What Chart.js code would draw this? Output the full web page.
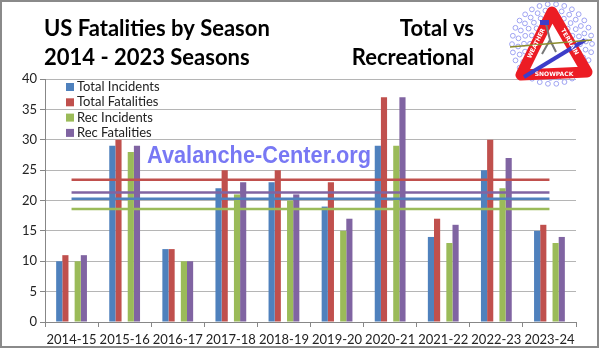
<!DOCTYPE html>
<html>
<head>
<meta charset="utf-8">
<title>US Fatalities by Season</title>
<script src="https://cdn.jsdelivr.net/npm/chart.js@4.4.1/dist/chart.umd.min.js"></script>
<style>
	html, body { margin: 0; padding: 0; background: #fff; }
	#grafico { display: block; }
</style>
</head>
<body>
<canvas id="grafico" width="600" height="350"></canvas>
<script>
// dados
var temporadas = ['2014-15', '2015-16', '2016-17', '2017-18', '2018-19', '2019-20', '2020-21', '2021-22', '2022-23', '2023-24'];
var totalIncidentes = [10, 29, 12, 22, 23, 19, 29, 14, 25, 15];
var totalFatalidades = [11, 30, 12, 25, 25, 23, 37, 17, 30, 16];
var recIncidentes = [10, 28, 10, 21, 20, 15, 29, 13, 22, 13];
var recFatalidades = [11, 29, 10, 23, 21, 17, 37, 16, 27, 14];

// linhas horizontais de media (nivel constante)
var mediaTotalIncidentes = 20.3;
var mediaTotalFatalidades = 23.4;
var mediaRecIncidentes = 18.6;
var mediaRecFatalidades = 21.3;

var yTicks = [0, 5, 10, 15, 20, 25, 30, 35, 40];

var AZUL = '#4f81bd', VERMELHO = '#c0504d', VERDE = '#9bbb59', ROXO = '#8064a2';
var FONTE = 'Lato, "Noto Sans", sans-serif';

function linhaConstante(valor) {
	return temporadas.map(function() { return valor; });
}

function barra(label, cor, dados) {
	return { type: 'bar', label: label, backgroundColor: cor, data: dados, order: 2 };
}

function linha(cor, valor) {
	return {
		type: 'line', label: '', borderColor: cor, borderWidth: 2.5,
		pointRadius: 0, data: linhaConstante(valor), order: 0, fill: false
	};
}

function textoNoLado(ctx, texto, x1, y1, x2, y2, desloc) {
	var ang = Math.atan2(y2 - y1, x2 - x1);
	ctx.save();
	ctx.translate((x1 + x2) / 2, (y1 + y2) / 2);
	ctx.rotate(ang);
	ctx.fillText(texto, 0, desloc);
	ctx.restore();
}

function desenhaLogo(ctx, cx, cy) {
	ctx.save();
	// anel de flocos
	ctx.strokeStyle = '#9ea2f2';
	ctx.lineWidth = 1;
	[[40, 30], [34, 26], [28, 22], [22, 16]].forEach(function(anel) {
		for (var i = 0; i < anel[1]; i++) {
			var a = i * Math.PI * 2 / anel[1] + anel[0];
			ctx.beginPath();
			ctx.arc(cx + Math.cos(a) * anel[0], cy + Math.sin(a) * anel[0], 2.4, 0, Math.PI * 2);
			ctx.stroke();
		}
	});
	// triangulo
	var p = [[cx, cy - 32], [cx - 31, cy + 31], [cx + 35, cy + 28]];
	ctx.beginPath();
	ctx.moveTo(p[0][0], p[0][1]); ctx.lineTo(p[1][0], p[1][1]); ctx.lineTo(p[2][0], p[2][1]); ctx.closePath();
	ctx.fillStyle = '#fff';
	ctx.fill();
	ctx.lineJoin = 'round';
	ctx.lineWidth = 11;
	ctx.strokeStyle = '#ec1c24';
	ctx.stroke();
	// esquiador simplificado
	ctx.strokeStyle = '#777';
	ctx.lineWidth = 2;
	ctx.beginPath();
	ctx.moveTo(cx - 6, cy - 20); ctx.lineTo(cx - 2, cy - 4); ctx.lineTo(cx + 4, cy + 8);
	ctx.moveTo(cx - 2, cy - 4); ctx.lineTo(cx - 10, cy + 10);
	ctx.stroke();
	ctx.fillStyle = '#3d3dc8';
	ctx.fillRect(cx - 12, cy - 24, 9, 5);
	ctx.strokeStyle = '#3d3dc8';
	ctx.lineWidth = 4;
	ctx.beginPath(); ctx.moveTo(cx - 28, cy + 33); ctx.lineTo(cx + 33, cy - 4); ctx.stroke();
	ctx.strokeStyle = '#8c8c2c';
	ctx.lineWidth = 1.5;
	ctx.beginPath(); ctx.moveTo(cx - 42, cy + 3); ctx.lineTo(cx + 40, cy - 4); ctx.stroke();
	ctx.fillStyle = '#fff';
	ctx.font = 'bold 6px "DejaVu Sans"';
	ctx.textAlign = 'center';
	ctx.textBaseline = 'middle';
	ctx.fillText('SNOWPACK', cx + 2, cy + 30);
	textoNoLado(ctx, 'WEATHER', p[1][0], p[1][1], p[0][0], p[0][1], 0);
	textoNoLado(ctx, 'TERRAIN', p[0][0], p[0][1], p[2][0], p[2][1], 0);
	ctx.restore();
}

var decoracao = {
	id: 'decoracao',
	afterDraw: function(chart) {
		var ctx = chart.ctx;
		ctx.save();
		// marca d'agua, ajustada a largura da original
		ctx.fillStyle = '#7878f4';
		ctx.font = 'bold 23px "Liberation Sans", Arial, sans-serif';
		ctx.textBaseline = 'alphabetic';
		ctx.textAlign = 'left';
		var marca = 'Avalanche-Center.org';
		var escala = 224 / ctx.measureText(marca).width;
		ctx.save();
		ctx.translate(147, 163);
		ctx.scale(escala, 1);
		ctx.fillText(marca, 0, 0);
		ctx.restore();

		// titulos
		ctx.fillStyle = '#000';
		ctx.font = 'bold 22px ' + FONTE;
		ctx.fillText('US Fatalities by Season', 44, 36);
		ctx.fillText('2014 - 2023 Seasons', 44, 65);
		ctx.textAlign = 'right';
		ctx.fillText('Total vs', 474, 36);
		ctx.fillText('Recreational', 474, 65);

		// legenda dentro da area
		ctx.textAlign = 'left';
		ctx.textBaseline = 'middle';
		ctx.font = '13px ' + FONTE;
		var y = 87;
		chart.data.datasets.forEach(function(ds) {
			if (ds.type !== 'bar' || !ds.label) return;
			ctx.fillStyle = ds.backgroundColor;
			ctx.fillRect(66, y - 4, 8, 8);
			ctx.fillStyle = '#222';
			ctx.fillText(ds.label, 77, y);
			y += 15.3;
		});

		desenhaLogo(ctx, 552, 44);

		// moldura
		ctx.strokeStyle = '#8a8a8a';
		ctx.lineWidth = 2;
		ctx.strokeRect(1, 1, 597, 346);
		ctx.restore();
	}
};

var grafico = new Chart(document.getElementById('grafico').getContext('2d'), {
	data: {
		labels: temporadas,
		datasets: [
			linha(VERMELHO, mediaTotalFatalidades),
			linha(ROXO, mediaRecFatalidades),
			linha(AZUL, mediaTotalIncidentes),
			linha(VERDE, mediaRecIncidentes),
			barra('Total Incidents', AZUL, totalIncidentes),
			barra('Total Fatalities', VERMELHO, totalFatalidades),
			barra('', 'rgba(0,0,0,0)', []),
			barra('Rec Incidents', VERDE, recIncidentes),
			barra('Rec Fatalities', ROXO, recFatalidades)
		]
	},
	options: {
		responsive: false,
		animation: false,
		events: [],
		layout: { padding: { top: 79, right: 24, left: 0, bottom: 0 } },
		datasets: { bar: { categoryPercentage: 0.58, barPercentage: 1.0 } },
		plugins: { legend: { display: false }, tooltip: { enabled: false } },
		scales: {
			x: {
				offset: true,
				grid: { drawOnChartArea: false, offset: true, tickLength: 5, color: '#878787' },
				border: { color: '#878787' },
				ticks: { color: '#222', font: { family: FONTE, size: 13 }, padding: 5, maxRotation: 0, autoSkip: false },
				afterFit: function(scale) { scale.height = 28; }
			},
			y: {
				min: 0,
				max: 40,
				afterBuildTicks: function(scale) {
					scale.ticks = yTicks.map(function(v) { return { value: v }; });
				},
				grid: { color: '#b5b5b5', tickLength: 5, tickColor: '#878787' },
				border: { color: '#878787' },
				ticks: { color: '#222', font: { family: FONTE, size: 13 }, padding: 3 },
				afterFit: function(scale) { scale.width = 45; }
			}
		}
	},
	plugins: [decoracao]
});
</script>
</body>
</html>
